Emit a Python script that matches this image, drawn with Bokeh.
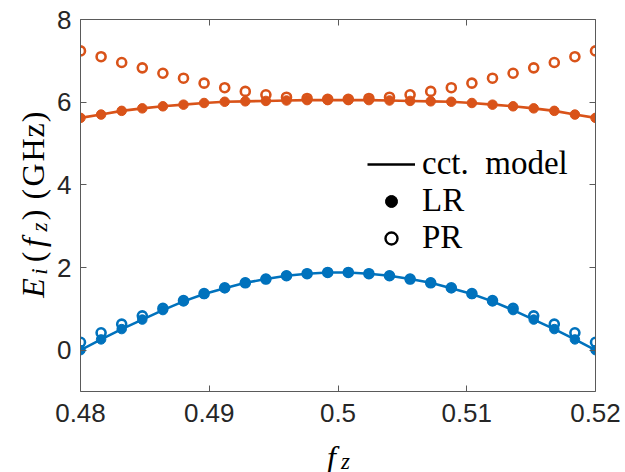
import math
from bokeh.plotting import figure
from bokeh.models import (Range1d, FixedTicker, LinearAxis, Legend, LegendItem, Label)
from bokeh.embed import file_html
from bokeh.resources import INLINE

# ---------------- data ----------------
fz = [0.4800, 0.4816, 0.4832, 0.4848, 0.4864, 0.4880, 0.4896, 0.4912, 0.4928,
      0.4944, 0.4960, 0.4976, 0.4992, 0.5008, 0.5024, 0.5040, 0.5056, 0.5072,
      0.5088, 0.5104, 0.5120, 0.5136, 0.5152, 0.5168, 0.5184, 0.5200]

lr_upper = [5.62, 5.70, 5.79, 5.85, 5.90, 5.94, 5.98, 6.01, 6.02, 6.03, 6.04, 6.05, 6.05,
            6.05, 6.05, 6.04, 6.03, 6.02, 6.01, 5.98, 5.94, 5.90, 5.85, 5.79, 5.70, 5.62]
pr_upper = [7.24, 7.10, 6.96, 6.83, 6.70, 6.58, 6.46, 6.35, 6.26, 6.18, 6.12, 6.09, 6.07,
            6.07, 6.09, 6.12, 6.18, 6.26, 6.35, 6.46, 6.58, 6.70, 6.83, 6.96, 7.10, 7.24]
lr_lower = [0.00, 0.26, 0.51, 0.74, 0.97, 1.18, 1.36, 1.50, 1.63, 1.72, 1.80, 1.85, 1.88,
            1.88, 1.85, 1.80, 1.72, 1.63, 1.50, 1.36, 1.18, 0.97, 0.74, 0.51, 0.26, 0.00]
pr_lower = [0.19, 0.42, 0.63, 0.83, 1.01, 1.20, 1.37, 1.51, 1.63, 1.72, 1.80, 1.85, 1.88,
            1.88, 1.85, 1.80, 1.72, 1.63, 1.51, 1.37, 1.20, 1.01, 0.83, 0.63, 0.42, 0.19]

x_ticks = [0.48, 0.49, 0.50, 0.51, 0.52]
x_tick_labels = ["0.48", "0.49", "0.5", "0.51", "0.52"]
y_ticks = [0, 2, 4, 6, 8]

legend_labels = ["cct.  model", "LR", "PR"]

BLUE = "#0072BD"
ORANGE = "#D95319"
AXC = "#262626"

# Hidden strip above the visible page that holds the label panels
EXTRA = 500

# ---------------- figure ----------------
p = figure(width=625, height=472 + EXTRA, output_backend="svg", toolbar_location=None,
           x_range=Range1d(0.48, 0.52), y_range=Range1d(-1, 8),
           min_border_left=80, min_border_right=30, min_border_top=19 + EXTRA,
           min_border_bottom=81, styles={"margin-top": f"-{EXTRA}px"})
p.background_fill_color = "white"
p.border_fill_color = "white"
p.outline_line_color = None
p.grid.visible = False

def style_axis(ax, labels=True):
    ax.axis_line_color = "#5a5a5a"
    ax.axis_line_width = 1
    ax.major_tick_line_color = "#5a5a5a"
    ax.major_tick_in = 6
    ax.major_tick_out = 0
    ax.minor_tick_line_color = None
    ax.major_label_text_font = "Liberation Sans"
    ax.major_label_text_font_size = "26px"
    ax.major_label_text_color = AXC
    if not labels:
        ax.major_label_text_color = None
        ax.major_label_standoff = 0

p.xaxis.ticker = FixedTicker(ticks=x_ticks)
p.xaxis.major_label_overrides = {t: s for t, s in zip(x_ticks, x_tick_labels)}
p.yaxis.ticker = FixedTicker(ticks=y_ticks)
style_axis(p.xaxis[0])
style_axis(p.yaxis[0])
p.xaxis.major_label_standoff = 12
p.yaxis.major_label_standoff = 9

top = LinearAxis(ticker=FixedTicker(ticks=x_ticks))
right = LinearAxis(ticker=FixedTicker(ticks=y_ticks))
style_axis(top, labels=False)
style_axis(right, labels=False)
p.add_layout(top, "above")
p.add_layout(right, "right")

# ---------------- data glyphs ----------------
for yl, yp, c in [(lr_lower, pr_lower, BLUE), (lr_upper, pr_upper, ORANGE)]:
    p.line(fz, yl, line_color=c, line_width=2.6)
    p.scatter(fz, yl, size=9.5, fill_color=c, line_color=c, line_width=1)
    p.scatter(fz, yp, size=9, fill_color=None, line_color=c, line_width=2.6)

# legend proxies (black, placed outside the visible range)
r_line = p.line([0.6, 0.61], [20, 20], line_color="black", line_width=2.6)
r_dot = p.scatter([0.6], [20], size=7.5, fill_color="black", line_color="black")
r_open = p.scatter([0.6], [20], size=7, fill_color=None, line_color="black", line_width=2.4)

legend = Legend(items=[LegendItem(label=legend_labels[0], renderers=[r_line]),
                       LegendItem(label=legend_labels[1], renderers=[r_dot]),
                       LegendItem(label=legend_labels[2], renderers=[r_open])],
                location=(287, 135), glyph_width=48, glyph_height=30, label_height=30,
                label_standoff=7, spacing=0, padding=0, margin=0,
                border_line_color=None, background_fill_alpha=0,
                label_text_font="Liberation Serif", label_text_font_size="33px",
                label_text_color="black")
p.add_layout(legend, "center")

# ---------------- axis labels (composed math text) ----------------
SERIF = "Liberation Serif"

def lab(x, y, txt, style, size, angle=0.0):
    # x, y: pixel position in the visible page (top-left origin)
    return Label(x=x, y=y + EXTRA, x_units="canvas", y_units="canvas", text=txt, angle=angle,
                 text_font=SERIF, text_font_style=style, text_font_size=f"{size}px",
                 text_color="black", text_baseline="alphabetic", text_align="center")

# x label: f_z
p.add_layout(lab(331, 456, "f", "italic", 32), "above")
p.add_layout(lab(345, 461, "z", "italic", 23), "above")

# y label: E_i(f_z) (GHz), rotated; (text, style, size, subscript?, centre along the axis)
pieces = [("E", "italic", 32, False, 287.5),
          ("i", "italic", 23, True, 271),
          ("(", "normal", 32, False, 256.5),
          ("f", "italic", 32, False, 242),
          ("z", "italic", 23, True, 226.5),
          (")", "normal", 32, False, 214.5),
          ("(", "normal", 32, False, 193.6),
          ("G", "normal", 32, False, 174.5),
          ("H", "normal", 32, False, 149.5),
          ("z", "normal", 32, False, 130),
          (")", "normal", 32, False, 116.4)]
for txt, style, size, sub, yc in pieces:
    p.add_layout(lab(39 if sub else 32, yc, txt, style, size, angle=math.pi / 2), "above")

open("out.html", "w").write(file_html(p, INLINE))
